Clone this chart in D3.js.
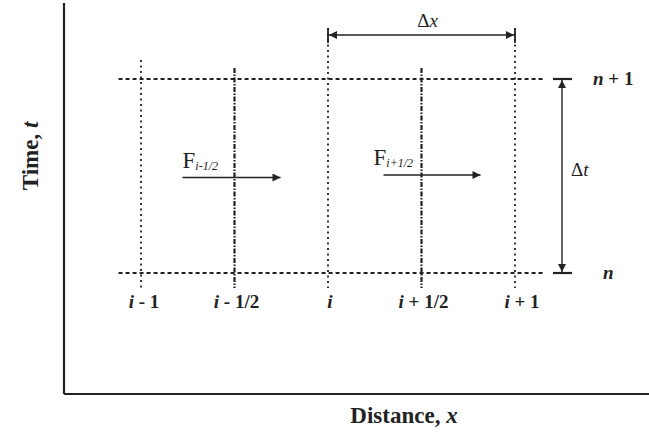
<!DOCTYPE html>
<html>
<head>
<meta charset="utf-8">
<script src="https://cdn.jsdelivr.net/npm/d3@7"></script>
<style>
  html, body { margin: 0; padding: 0; background: #fff; }
  svg { display: block; }
</style>
</head>
<body>
<svg id="chart" width="649" height="437"></svg>
<script>
// ---- data ----
const spaceNodes = [-1, -0.5, 0, 0.5, 1];                 // i-1, i-1/2, i, i+1/2, i+1
const spaceLabelsBase = ["i", "i", "i", "i", "i"];
const spaceLabelsRest = [" - 1", " - 1/2", "", " + 1/2", " + 1"];
const timeLevels = [0, 1];                                  // n, n+1
const timeLabelsBase = ["n", "n"];
const timeLabelsRest = ["", " + 1"];
const fluxPositions = [-0.5, 0.5];
const fluxSubscripts = ["i-1/2", "i+1/2"];
const xTitle = "Distance, ";
const xVar = "x";
const yTitle = "Time, ";
const yVar = "t";

const svg = d3.select("#chart");
const ink = "#222";
const serif = "'Liberation Serif', 'Times New Roman', serif";

const x = d3.scaleLinear().domain([-1, 1]).range([141, 515]);
const y = d3.scaleLinear().domain([0, 1]).range([273, 79]);

// axes frame (L-shape)
svg.append("line").attr("x1", 64).attr("x2", 64).attr("y1", 3).attr("y2", 394)
  .attr("stroke", ink).attr("stroke-width", 2.2);
svg.append("line").attr("x1", 64).attr("x2", 649).attr("y1", 394).attr("y2", 394)
  .attr("stroke", ink).attr("stroke-width", 2.2);

// horizontal time-level dotted lines
svg.selectAll("line.tl").data(timeLevels).enter().append("line")
  .attr("class", "tl")
  .attr("x1", x(-1.12)).attr("x2", x(1.15))
  .attr("y1", d => y(d)).attr("y2", d => y(d))
  .attr("stroke", ink).attr("stroke-width", 2)
  .attr("stroke-dasharray", "4,3");

// vertical node lines
const topFor = d => (d === 0 || d === 1) ? 28 : (d === -1 ? 60 : 68);
svg.selectAll("line.sn").data(spaceNodes).enter().append("line")
  .attr("class", "sn")
  .attr("x1", d => x(d)).attr("x2", d => x(d))
  .attr("y1", d => topFor(d)).attr("y2", 288)
  .attr("stroke", ink)
  .attr("stroke-width", d => Number.isInteger(d) ? 1.8 : 2.2)
  .attr("stroke-dasharray", d => Number.isInteger(d) ? "2,3.5" : "5,1.5,1.5,1.5");

// tick labels (space)
const sl = svg.selectAll("text.sl").data(spaceNodes).enter().append("text")
  .attr("class", "sl")
  .attr("x", d => x(d) + (d === 1 ? 7 : (d === -1 ? 3 : 2)))
  .attr("y", 308)
  .attr("text-anchor", "middle")
  .attr("font-family", serif).attr("font-weight", "bold").attr("font-size", 19)
  .attr("fill", ink);
sl.append("tspan").attr("font-style", "italic").text((d, i) => spaceLabelsBase[i]);
sl.append("tspan").text((d, i) => spaceLabelsRest[i]);

// time labels
const tl = svg.selectAll("text.tlab").data(timeLevels).enter().append("text")
  .attr("class", "tlab")
  .attr("x", d => d === 1 ? 593 : 603)
  .attr("y", d => y(d) + 6)
  .attr("font-family", serif).attr("font-weight", "bold").attr("font-size", 19)
  .attr("fill", ink);
tl.append("tspan").attr("font-style", "italic").text((d, i) => timeLabelsBase[i]);
tl.append("tspan").text((d, i) => timeLabelsRest[i]);

// arrow markers
const defs = svg.append("defs");
defs.append("marker").attr("id", "ah").attr("viewBox", "0 0 10 10")
  .attr("refX", 10).attr("refY", 5).attr("markerWidth", 13).attr("markerHeight", 8)
  .attr("markerUnits", "userSpaceOnUse").attr("orient", "auto-start-reverse")
  .append("path").attr("d", "M0,0 L10,5 L0,10 Z").attr("fill", ink);

// Δx dimension
const dxY = 35;
svg.append("line").attr("x1", x(0) + 1).attr("x2", x(1) - 1).attr("y1", dxY).attr("y2", dxY)
  .attr("stroke", ink).attr("stroke-width", 1.4)
  .attr("marker-start", "url(#ah)").attr("marker-end", "url(#ah)");
[0, 1].forEach(v => {
  svg.append("line").attr("x1", x(v)).attr("x2", x(v)).attr("y1", 28).attr("y2", 43)
    .attr("stroke", ink).attr("stroke-width", 1.8);
});
const dxt = svg.append("text").attr("x", (x(0) + x(1)) / 2 + 6).attr("y", 27)
  .attr("text-anchor", "middle").attr("font-family", serif).attr("font-size", 19)
  .attr("fill", ink);
dxt.append("tspan").text("Δ");
dxt.append("tspan").attr("font-style", "italic").text("x");

// Δt dimension
const dtX = 562;
svg.append("line").attr("x1", dtX).attr("x2", dtX).attr("y1", y(0) - 1).attr("y2", y(1) + 1)
  .attr("stroke", ink).attr("stroke-width", 1.4)
  .attr("marker-start", "url(#ah)").attr("marker-end", "url(#ah)");
timeLevels.forEach(v => {
  svg.append("line").attr("x1", 553).attr("x2", 572).attr("y1", y(v)).attr("y2", y(v))
    .attr("stroke", ink).attr("stroke-width", 2.2);
});
const dtt = svg.append("text").attr("x", 571).attr("y", 176)
  .attr("font-family", serif).attr("font-size", 19)
  .attr("fill", ink);
dtt.append("tspan").text("Δ");
dtt.append("tspan").attr("font-style", "italic").text("t");

// flux arrows and labels
const fy = [177.5, 175];
const fStart = [-52, -38];
const fEnd = [46, 59];
const fLab = [-52, -48];
fluxPositions.forEach((p, k) => {
  svg.append("line").attr("x1", x(p) + fStart[k]).attr("x2", x(p) + fEnd[k]).attr("y1", fy[k]).attr("y2", fy[k])
    .attr("stroke", ink).attr("stroke-width", 1.7).attr("marker-end", "url(#ah)");
  const t = svg.append("text").attr("x", x(p) + fLab[k]).attr("y", fy[k] - 10)
    .attr("font-family", serif).attr("font-size", 23).attr("fill", ink);
  t.append("tspan").text("F");
  t.append("tspan").attr("font-size", 12).attr("dy", 2).attr("font-style", "italic")
    .text(fluxSubscripts[k]);
});

// axis titles
const xt = svg.append("text").attr("x", 404).attr("y", 423)
  .attr("text-anchor", "middle").attr("font-family", serif).attr("font-weight", "bold")
  .attr("font-size", 23).attr("fill", ink);
xt.append("tspan").text(xTitle);
xt.append("tspan").attr("font-style", "italic").text(xVar);

const yt = svg.append("text").attr("transform", "translate(38,156) rotate(-90)")
  .attr("text-anchor", "middle").attr("font-family", serif).attr("font-weight", "bold")
  .attr("font-size", 23).attr("fill", ink);
yt.append("tspan").text(yTitle);
yt.append("tspan").attr("font-style", "italic").text(yVar);
</script>
</body>
</html>
